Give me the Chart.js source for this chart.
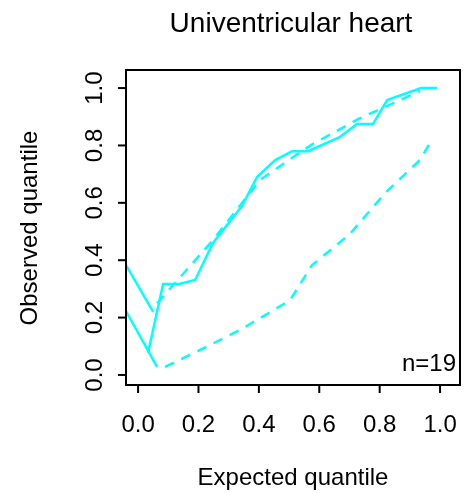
<!DOCTYPE html><html><head><script src="https://cdn.jsdelivr.net/npm/chart.js@4"></script>
<style>body{margin:0;background:#fff}canvas{display:block}</style></head><body>
<canvas id="c" width="468" height="494"></canvas>
<script>
const obsX=[0.033,0.083,0.136,0.189,0.248,0.344,0.394,0.454,0.51,0.563,0.669,0.725,0.778,0.825,0.937,0.99];
const obsY=[0.077,0.317,0.317,0.331,0.46,0.589,0.69,0.749,0.78,0.78,0.83,0.875,0.875,0.958,1.0,1.0];
const upSolidX=[-0.04,0.05], upSolidY=[0.383,0.22];
const upDashX=[0.063,0.248,0.404,0.57,0.735,0.934], upDashY=[0.25,0.47,0.68,0.80,0.895,0.99];
const loSolidX=[-0.04,0.063], loSolidY=[0.223,0.028];
const loDashX=[0.089,0.205,0.338,0.503,0.576,0.70,0.818,0.934,0.967], loDashY=[0.028,0.087,0.157,0.26,0.383,0.49,0.634,0.75,0.81];
const xTicks=[0,0.2,0.4,0.6,0.8,1.0], yTicks=[0,0.2,0.4,0.6,0.8,1.0];
const pts=(xs,ys)=>xs.map((x,i)=>({x,y:ys[i]}));
const ds=(xs,ys,dash)=>({data:pts(xs,ys),borderColor:'#00ffff',borderWidth:2.5,borderDash:dash?[10,8]:[],pointRadius:0,showLine:true,fill:false,tension:0});
const F='"Liberation Sans", Arial, sans-serif';
const deco={id:'deco',afterDraw(ch){const c=ch.ctx,a=ch.chartArea,sx=ch.scales.x,sy=ch.scales.y;
c.save();c.strokeStyle='#000';c.lineWidth=2;c.strokeRect(a.left,a.top,a.right-a.left,a.bottom-a.top);
c.fillStyle='#000';c.font='24px '+F;c.textAlign='center';c.textBaseline='middle';
xTicks.forEach(v=>{const p=sx.getPixelForValue(v);c.beginPath();c.moveTo(p,a.bottom);c.lineTo(p,a.bottom+8);c.stroke();c.fillText(v.toFixed(1),p,425);});
yTicks.forEach(v=>{const p=sy.getPixelForValue(v);c.beginPath();c.moveTo(a.left,p);c.lineTo(a.left-8,p);c.stroke();c.save();c.translate(95,p);c.rotate(-Math.PI/2);c.fillText(v.toFixed(1),0,0);c.restore();});
c.fillText('Expected quantile',293,478);
c.save();c.translate(30,228);c.rotate(-Math.PI/2);c.fillText('Observed quantile',0,0);c.restore();
c.font='28px '+F;c.fillText('Univentricular heart',291,24);
c.font='24px '+F;c.textAlign='right';c.fillText('n=19',456,364);
c.restore();}};
new Chart(document.getElementById('c'),{type:'scatter',
data:{datasets:[ds(obsX,obsY,false),ds(upSolidX,upSolidY,false),ds(upDashX,upDashY,true),ds(loSolidX,loSolidY,false),ds(loDashX,loDashY,true)]},
options:{responsive:false,animation:false,layout:{padding:{left:126,right:8,top:70,bottom:109}},
plugins:{legend:{display:false},tooltip:{enabled:false}},
scales:{x:{type:'linear',display:false,min:-0.04,max:1.066},y:{type:'linear',display:false,min:-0.035,max:1.063}}},
plugins:[deco]});
</script></body></html>
